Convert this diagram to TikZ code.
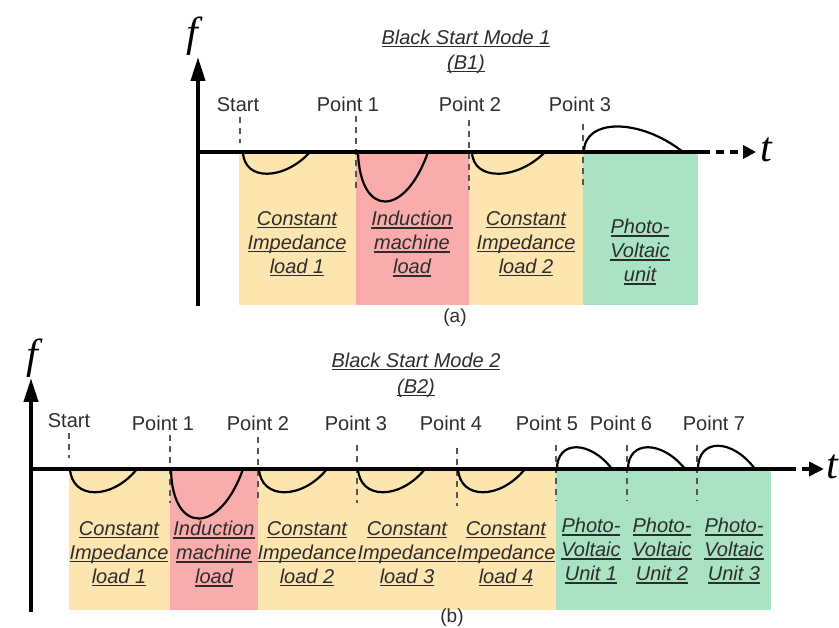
\documentclass[tikz,border=0pt]{standalone}
\usepackage{fontspec}
\setmainfont{Liberation Sans}
\newfontfamily\axisfont{Liberation Serif}
\newcommand{\ultext}[1]{\setbox0\hbox{#1}\rlap{\rule[-2.6pt]{\wd0}{1.1pt}}\box0}
\usetikzlibrary{arrows.meta}
\definecolor{cload}{RGB}{253,229,176}
\definecolor{imload}{RGB}{250,172,172}
\definecolor{pvunit}{RGB}{170,226,196}
\definecolor{txtgray}{RGB}{45,45,45}
\definecolor{dashgray}{RGB}{85,85,85}
\begin{document}
\begin{tikzpicture}[x=1pt,y=-1pt,
  axis/.style={line width=4pt},
  wave/.style={line width=2.2pt},
  marker/.style={draw=dashgray,line width=1.5pt,dash pattern=on 6pt off 5pt},
  ptlabel/.style={text=txtgray,anchor=base,font=\fontsize{20}{24}\selectfont},
  boxlabel/.style={text=txtgray,align=center,font=\fontsize{20}{24}\selectfont\itshape},
  axlabel/.style={font=\fontsize{42}{42}\selectfont\axisfont\itshape}]
\useasboundingbox (0,0) rectangle (839,628);

% (a) Black Start Mode 1
\fill[cload] (239,152) rectangle (356,305);
\fill[imload] (356,152) rectangle (469,305);
\fill[cload] (469,152) rectangle (583,305);
\fill[pvunit] (583,152) rectangle (698,305);
\draw[marker] (240,117)--(240,143);
\draw[marker] (356,116)--(356,190);
\draw[marker] (469,120)--(469,190);
\draw[marker] (583,124)--(583,185);
\draw[wave] (243,152) .. controls (244,182) and (285,180) .. (310,152);
\draw[wave] (358,152) .. controls (360,218) and (405,218) .. (428,152);
\draw[wave] (472,152) .. controls (473,182) and (518,180) .. (545,152);
\draw[wave] (584,152) .. controls (584,118) and (640,118) .. (683,152);
\draw[axis,-{Triangle[length=24pt,width=14pt]}] (198,306)--(198,57);
\draw[axis] (198,152)--(702,152);
\draw[axis,dash pattern=on 8pt off 6pt,-{Triangle[length=13pt,width=13pt]}] (702,152)--(756,152);
\node[axlabel] (fA) at (192,36) {f};
\node[axlabel,anchor=base] (tA) at (766,162) {t};
\node[text=txtgray,align=center,font=\fontsize{20}{25}\selectfont\itshape] (titleA) at (466,52)
  {\ultext{Black Start Mode 1}\\\ultext{(B1)}};
\node[ptlabel] (startA) at (238,112) {Start};
\node[ptlabel] (p1A) at (348,112) {Point 1};
\node[ptlabel] (p2A) at (470,112) {Point 2};
\node[ptlabel] (p3A) at (580,112) {Point 3};
\node[boxlabel] (zA1) at (297,244) {\ultext{Constant}\\\ultext{Impedance}\\\ultext{load 1}};
\node[boxlabel] (imA) at (412,244) {\ultext{Induction}\\\ultext{machine}\\\ultext{load}};
\node[boxlabel] (zA2) at (526,244) {\ultext{Constant}\\\ultext{Impedance}\\\ultext{load 2}};
\node[boxlabel] (pvA) at (640,252) {\ultext{Photo-}\\\ultext{Voltaic}\\\ultext{unit}};
\node[text=txtgray,font=\fontsize{19}{22}\selectfont] (capA) at (455,318) {(a)};

% (b) Black Start Mode 2
\fill[cload] (69,469) rectangle (170,610);
\fill[imload] (170,469) rectangle (258,610);
\fill[cload] (258,469) rectangle (556,610);
\fill[pvunit] (556,469) rectangle (771,610);
\draw[marker] (69,433)--(69,458);
\draw[marker] (170,435)--(170,503);
\draw[marker] (258,437)--(258,503);
\draw[marker] (357,445)--(357,503);
\draw[marker] (457,448)--(457,506);
\draw[marker] (556,445)--(556,501);
\draw[marker] (627,445)--(627,501);
\draw[marker] (697,445)--(697,501);
\draw[wave] (70,469) .. controls (72,500) and (112,500) .. (137,469);
\draw[wave] (171,469) .. controls (172,535) and (220,535) .. (243,469);
\draw[wave] (259,469) .. controls (261,500) and (302,500) .. (327,469);
\draw[wave] (358,469) .. controls (360,500) and (400,500) .. (425,469);
\draw[wave] (458,469) .. controls (460,500) and (500,500) .. (525,469);
\draw[wave] (557,469) .. controls (557,440) and (590,440) .. (612,469);
\draw[wave] (628,469) .. controls (628,440) and (662,440) .. (685,469);
\draw[wave] (698,469) .. controls (698,438) and (732,438) .. (755,469);
\draw[axis,-{Triangle[length=24pt,width=14pt]}] (31,612)--(31,378);
\draw[axis] (31,469)--(788,469);
\draw[axis,dash pattern=on 8pt off 6pt,-{Triangle[length=15pt,width=14pt]}] (788,469)--(824,469);
\node[axlabel,anchor=base] (tB) at (832,479) {t};
\node[axlabel] (fB) at (32,358) {f};
\node[text=txtgray,align=center,font=\fontsize{20}{26}\selectfont\itshape] (titleB) at (416,375)
  {\ultext{Black Start Mode 2}\\\ultext{(B2)}};
\node[ptlabel] (startB) at (69,428) {Start};
\node[ptlabel] (p1B) at (163,431) {Point 1};
\node[ptlabel] (p2B) at (258,431) {Point 2};
\node[ptlabel] (p3B) at (356,431) {Point 3};
\node[ptlabel] (p4B) at (451,431) {Point 4};
\node[ptlabel] (p5B) at (547,431) {Point 5};
\node[ptlabel] (p6B) at (621,431) {Point 6};
\node[ptlabel] (p7B) at (714,431) {Point 7};
\node[boxlabel] (zB1) at (119,554) {\ultext{Constant}\\\ultext{Impedance}\\\ultext{load 1}};
\node[boxlabel] (imB) at (214,554) {\ultext{Induction}\\\ultext{machine}\\\ultext{load}};
\node[boxlabel] (zB2) at (307,554) {\ultext{Constant}\\\ultext{Impedance}\\\ultext{load 2}};
\node[boxlabel] (zB3) at (407,554) {\ultext{Constant}\\\ultext{Impedance}\\\ultext{load 3}};
\node[boxlabel] (zB4) at (506,554) {\ultext{Constant}\\\ultext{Impedance}\\\ultext{load 4}};
\node[boxlabel] (pvB1) at (591,551) {\ultext{Photo-}\\\ultext{Voltaic}\\\ultext{Unit 1}};
\node[boxlabel] (pvB2) at (662,551) {\ultext{Photo-}\\\ultext{Voltaic}\\\ultext{Unit 2}};
\node[boxlabel] (pvB3) at (734,551) {\ultext{Photo-}\\\ultext{Voltaic}\\\ultext{Unit 3}};
\node[text=txtgray,font=\fontsize{19}{22}\selectfont] (capB) at (452,618) {(b)};
\end{tikzpicture}
\end{document}
